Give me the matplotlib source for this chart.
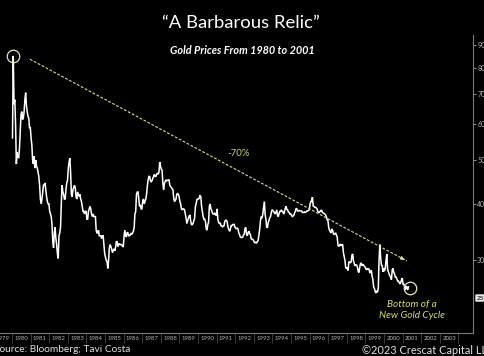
import numpy as np
import matplotlib
matplotlib.use("Agg")
import matplotlib.pyplot as plt
from matplotlib.ticker import FixedLocator, NullFormatter, FixedFormatter

plt.rcParams['font.family'] = ['Lato', 'DejaVu Sans']

# ---- data: semi-monthly gold price estimates (USD/oz) ----
years = list(range(1980, 2002))
p1980 = [560, 850, 665, 680, 600, 490, 520, 510, 505, 530, 580, 630, 640, 615, 620, 640, 680, 705, 660, 640, 625, 620, 590, 590]
p1981 = [560, 540, 500, 490, 510, 480, 500, 485, 480, 470, 460, 440, 410, 400, 410, 425, 440, 440, 445, 430, 415, 405, 400, 400]
p1982 = [385, 380, 375, 360, 330, 320, 345, 355, 335, 325, 310, 303, 340, 345, 355, 400, 440, 425, 420, 410, 410, 430, 445, 450]
p1983 = [480, 495, 505, 470, 420, 415, 430, 435, 440, 435, 415, 410, 425, 420, 415, 420, 410, 405, 395, 385, 385, 380, 385, 385]
p1984 = [370, 370, 385, 390, 395, 390, 380, 375, 380, 375, 375, 375, 350, 345, 345, 350, 340, 340, 340, 335, 340, 340, 325, 310]
p1985 = [305, 300, 298, 288, 300, 320, 325, 322, 318, 312, 315, 318, 315, 320, 330, 330, 322, 325, 327, 325, 325, 325, 322, 322]
p1986 = [340, 350, 340, 338, 346, 345, 340, 340, 342, 344, 343, 345, 348, 355, 380, 385, 420, 425, 425, 410, 395, 398, 390, 390]
p1987 = [405, 410, 400, 405, 410, 420, 438, 452, 460, 460, 450, 448, 450, 455, 460, 465, 460, 460, 465, 468, 465, 470, 495, 485]
p1988 = [477, 475, 445, 430, 444, 448, 452, 450, 451, 452, 452, 440, 437, 435, 432, 430, 413, 405, 407, 410, 420, 422, 420, 415]
p1989 = [405, 400, 390, 388, 390, 390, 388, 380, 372, 362, 367, 372, 376, 378, 366, 360, 360, 362, 367, 372, 394, 400, 409, 410]
p1990 = [410, 412, 418, 415, 395, 385, 375, 370, 370, 366, 352, 350, 360, 364, 395, 400, 390, 387, 382, 380, 380, 382, 378, 378]
p1991 = [390, 370, 364, 362, 363, 358, 358, 356, 357, 358, 366, 368, 368, 365, 356, 352, 348, 350, 358, 358, 360, 360, 361, 355]
p1992 = [354, 352, 354, 352, 345, 342, 338, 337, 337, 338, 341, 343, 353, 355, 343, 340, 345, 348, 344, 342, 335, 334, 334, 332]
p1993 = [329, 328, 329, 328, 330, 332, 342, 352, 367, 375, 372, 380, 392, 405, 379, 370, 355, 355, 364, 368, 373, 375, 383, 388]
p1994 = [387, 385, 382, 380, 384, 388, 377, 375, 381, 385, 385, 388, 385, 384, 380, 385, 391, 395, 389, 388, 384, 383, 379, 380]
p1995 = [378, 375, 376, 377, 382, 385, 391, 390, 385, 386, 387, 386, 386, 386, 383, 383, 383, 384, 383, 384, 386, 386, 387, 388]
p1996 = [400, 405, 405, 414, 396, 395, 393, 393, 392, 390, 385, 383, 383, 385, 387, 387, 383, 382, 381, 380, 378, 375, 369, 368]
p1997 = [355, 350, 347, 345, 352, 350, 344, 342, 344, 345, 341, 338, 324, 322, 324, 326, 323, 325, 325, 312, 306, 300, 289, 288]
p1998 = [289, 285, 297, 298, 296, 298, 308, 310, 299, 295, 292, 293, 293, 290, 284, 282, 289, 295, 296, 292, 294, 293, 291, 290]
p1999 = [287, 286, 288, 287, 287, 282, 282, 285, 277, 272, 262, 260, 256, 254, 257, 255, 260, 300, 325, 305, 293, 292, 283, 288]
p2000 = [284, 288, 300, 310, 287, 283, 280, 277, 275, 272, 286, 288, 282, 280, 275, 276, 273, 270, 270, 268, 266, 268, 272, 274]
p2001 = [265, 266, 262, 258, 263, 262, 258, 262]

series = [p1980, p1981, p1982, p1983, p1984, p1985, p1986, p1987, p1988, p1989, p1990,
          p1991, p1992, p1993, p1994, p1995, p1996, p1997, p1998, p1999, p2000, p2001]

t = []
v = []
for y, vals in zip(years, series):
    for i, val in enumerate(vals):
        t.append(y + (i + 0.5) / 24.0)
        v.append(val)
t = np.array(t)
v = np.array(v)

tick_years = list(range(1979, 2004))
yticks = [300, 400, 500, 600, 700, 800, 900]

peak_t, peak_v = 1980.05, 850
trough_t, trough_v = 2001.39, 260
trend_start = (1980.96, 836)
trend_end = (2001.23, 299)
last_label = "252"

# ---- figure ----
fig = plt.figure(figsize=(4.85, 3.56), dpi=100, facecolor='black')
ax = fig.add_axes([0.0, 1 - 333 / 356, 473 / 485, (333 - 35) / 356])
ax.set_facecolor('black')
ax.set_yscale('log')
ax.set_xlim(1979.35, 2004.78)
ax.set_ylim(207.2, 945.8)

ax.plot(t, v, color='white', lw=1.1, solid_joinstyle='miter')

# spines
for s in ['top', 'left']:
    ax.spines[s].set_visible(False)
for s in ['right', 'bottom']:
    ax.spines[s].set_color('#7a7a7a')
    ax.spines[s].set_linewidth(0.8)

# x ticks: separators at year boundaries, labels centred in each year
ax.xaxis.set_major_locator(FixedLocator(tick_years + [2004]))
ax.xaxis.set_major_formatter(NullFormatter())
ax.xaxis.set_minor_locator(FixedLocator([y + 0.5 for y in tick_years]))
ax.xaxis.set_minor_formatter(FixedFormatter([str(y) for y in tick_years]))
ax.tick_params(axis='x', which='major', length=7, width=0.6, color='#444444', direction='out')
ax.tick_params(axis='x', which='minor', length=0, pad=2, labelsize=4.3, labelcolor='#b5b5b5')

# y ticks on the right
ax.yaxis.tick_right()
ax.yaxis.set_major_locator(FixedLocator(yticks))
ax.yaxis.set_major_formatter(FixedFormatter([str(y) for y in yticks]))
ax.yaxis.set_minor_locator(FixedLocator([]))
ax.yaxis.set_minor_formatter(NullFormatter())
ax.tick_params(axis='y', which='major', length=2, width=0.6, color='#aaaaaa', pad=1,
               labelsize=5, labelcolor='#b5b5b5')

# trend line with arrow
ax.plot([trend_start[0], trend_end[0]], [trend_start[1], trend_end[1]],
        color='#dcdc8c', lw=0.8, linestyle=(0, (2.5, 1.5)))
frac = 0.985
ax.annotate('', xy=trend_end,
            xytext=(trend_start[0] + frac * (trend_end[0] - trend_start[0]),
                    trend_start[1] * (trend_end[1] / trend_start[1]) ** frac),
            arrowprops=dict(arrowstyle='-|>', color='#dcdc8c', lw=0.8, mutation_scale=5))

# circles
ax.plot([peak_t], [peak_v], marker='o', ms=9, mfc='none', mec='#e6e6b4', mew=0.9)
ax.plot([trough_t], [trough_v], marker='o', ms=9, mfc='none', mec='#e6e6b4', mew=0.9)

ax.text(1992.15, 518, '-70%', color='#c8d06a', fontsize=7, ha='center', va='center')
ax.text(2001.5, 233, 'Bottom of a\nNew Gold Cycle', color='#d4dc6e', fontsize=7.2,
        style='italic', ha='center', va='center', linespacing=1.25)

# last price tag
fig.text(476.5 / 485, 1 - 298 / 356, last_label, fontsize=4.5, color='black', ha='left', va='center',
         bbox=dict(boxstyle='round,pad=0.2', fc='#e6e6e6', ec='none'))

# titles and footer
fig.text(241 / 485, 1 - 23 / 356, '\u201cA Barbarous Relic\u201d', color='white', fontsize=13.3,
         ha='center', va='center')
fig.text(242 / 485, 1 - 50.5 / 356, 'Gold Prices From 1980 to 2001', color='white', fontsize=7.8,
         style='italic', fontweight='bold', ha='center', va='center')
fig.text(-6 / 485, 1 - 350 / 356, 'Source: Bloomberg; Tavi Costa', color='#e0e0e0', fontsize=7.3,
         ha='left', va='center')
fig.text(362 / 485, 1 - 350 / 356, '\u00a92023 Crescat Capital LLC', color='#e0e0e0', fontsize=7.9,
         ha='left', va='center')

fig.savefig('out.png', dpi=100, facecolor='black')
